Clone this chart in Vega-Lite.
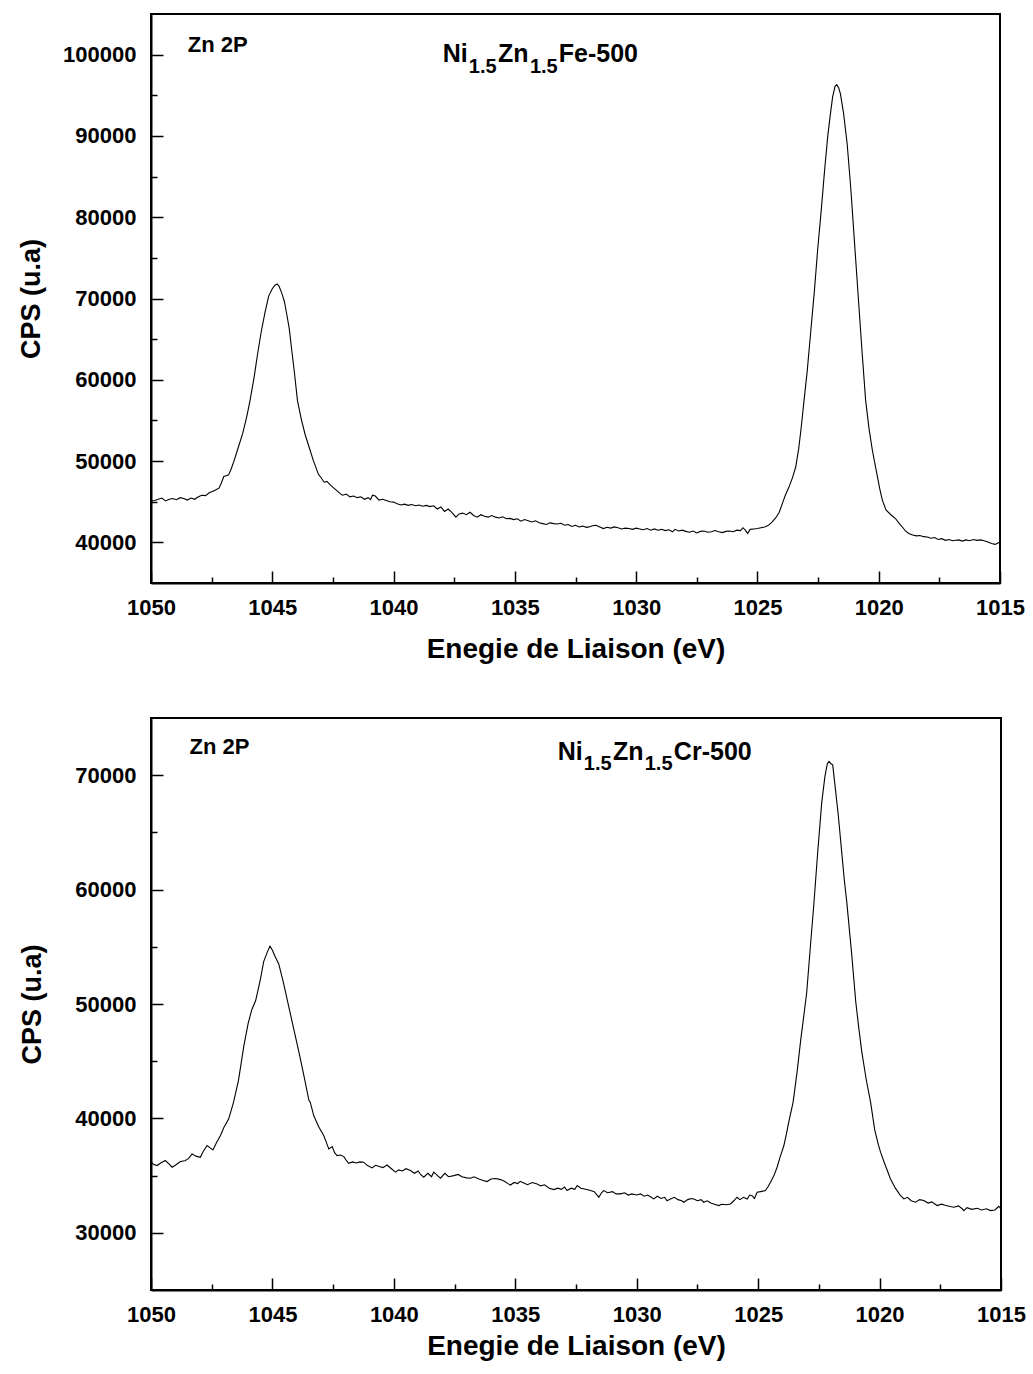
{
  "$schema": "https://vega.github.io/schema/vega-lite/v6.json",
  "padding": {"left": 16, "top": 13, "right": 5, "bottom": 5},
  "background": "white",
  "spacing": 53,
  "config": {
    "view": {"stroke": "black", "strokeWidth": 2},
    "axis": {
      "domainColor": "black", "domainWidth": 2, "tickColor": "black", "tickWidth": 1.5,
      "labelFont": "Liberation Sans", "labelFontWeight": "bold", "labelFontSize": 22, "labelColor": "black",
      "titleFont": "Liberation Sans", "titleFontWeight": "bold", "titleFontSize": 27, "titleColor": "black",
      "grid": false, "labelOverlap": false, "labelFlush": false
    },
    "text": {"font": "Liberation Sans", "fontWeight": "bold", "color": "black", "align": "left", "baseline": "alphabetic"}
  },
  "datasets": {
    "fe": [
      {"eV":1050.0,"cps":45100},{"eV":1049.85,"cps":45150},{"eV":1049.7,"cps":45300},{"eV":1049.55,"cps":45450},{"eV":1049.4,"cps":45100},{"eV":1049.25,"cps":45300},{"eV":1049.1,"cps":45400},{"eV":1048.95,"cps":45250},{"eV":1048.8,"cps":45500},{"eV":1048.65,"cps":45400},{"eV":1048.5,"cps":45200},{"eV":1048.35,"cps":45450},{"eV":1048.2,"cps":45300},{"eV":1048.05,"cps":45600},{"eV":1047.9,"cps":45800},{"eV":1047.75,"cps":45750},{"eV":1047.6,"cps":46100},{"eV":1047.45,"cps":46300},{"eV":1047.3,"cps":46500},{"eV":1047.19,"cps":46700},{"eV":1047.1,"cps":47300},{"eV":1047.0,"cps":48100},{"eV":1046.9,"cps":48200},{"eV":1046.8,"cps":48300},{"eV":1046.7,"cps":49000},{"eV":1046.58,"cps":50000},{"eV":1046.4,"cps":51700},{"eV":1046.22,"cps":53400},{"eV":1046.05,"cps":55500},{"eV":1045.92,"cps":57400},{"eV":1045.75,"cps":60300},{"eV":1045.6,"cps":63300},{"eV":1045.45,"cps":66000},{"eV":1045.3,"cps":68300},{"eV":1045.15,"cps":70300},{"eV":1045.0,"cps":71200},{"eV":1044.9,"cps":71600},{"eV":1044.8,"cps":71800},{"eV":1044.72,"cps":71500},{"eV":1044.6,"cps":70600},{"eV":1044.5,"cps":69600},{"eV":1044.4,"cps":68000},{"eV":1044.3,"cps":66300},{"eV":1044.2,"cps":63700},{"eV":1044.1,"cps":61200},{"eV":1043.96,"cps":57400},{"eV":1043.8,"cps":55100},{"eV":1043.65,"cps":53300},{"eV":1043.48,"cps":51700},{"eV":1043.3,"cps":50000},{"eV":1043.1,"cps":48400},{"eV":1042.95,"cps":47800},{"eV":1042.86,"cps":47400},{"eV":1042.75,"cps":47500},{"eV":1042.62,"cps":47100},{"eV":1042.51,"cps":46800},{"eV":1042.35,"cps":46400},{"eV":1042.2,"cps":46000},{"eV":1042.1,"cps":45800},{"eV":1041.95,"cps":45950},{"eV":1041.8,"cps":45600},{"eV":1041.65,"cps":45700},{"eV":1041.5,"cps":45500},{"eV":1041.35,"cps":45600},{"eV":1041.2,"cps":45300},{"eV":1041.05,"cps":45500},{"eV":1040.95,"cps":45250},{"eV":1040.87,"cps":45800},{"eV":1040.75,"cps":45700},{"eV":1040.6,"cps":45200},{"eV":1040.45,"cps":45300},{"eV":1040.3,"cps":45150},{"eV":1040.15,"cps":45000},{"eV":1040.0,"cps":44950},{"eV":1039.85,"cps":44750},{"eV":1039.7,"cps":44600},{"eV":1039.55,"cps":44700},{"eV":1039.4,"cps":44550},{"eV":1039.25,"cps":44650},{"eV":1039.1,"cps":44500},{"eV":1038.95,"cps":44600},{"eV":1038.8,"cps":44450},{"eV":1038.65,"cps":44550},{"eV":1038.5,"cps":44400},{"eV":1038.35,"cps":44500},{"eV":1038.2,"cps":44100},{"eV":1038.05,"cps":44350},{"eV":1037.9,"cps":43800},{"eV":1037.75,"cps":44100},{"eV":1037.6,"cps":43700},{"eV":1037.43,"cps":43100},{"eV":1037.3,"cps":43500},{"eV":1037.15,"cps":43600},{"eV":1037.0,"cps":43400},{"eV":1036.85,"cps":43700},{"eV":1036.7,"cps":43300},{"eV":1036.55,"cps":43100},{"eV":1036.4,"cps":43400},{"eV":1036.25,"cps":43200},{"eV":1036.1,"cps":43100},{"eV":1035.95,"cps":43300},{"eV":1035.8,"cps":43100},{"eV":1035.65,"cps":43000},{"eV":1035.5,"cps":43150},{"eV":1035.35,"cps":42900},{"eV":1035.2,"cps":42950},{"eV":1035.05,"cps":42800},{"eV":1034.9,"cps":42900},{"eV":1034.75,"cps":42600},{"eV":1034.6,"cps":42800},{"eV":1034.45,"cps":42650},{"eV":1034.3,"cps":42500},{"eV":1034.15,"cps":42650},{"eV":1034.0,"cps":42400},{"eV":1033.85,"cps":42300},{"eV":1033.7,"cps":42200},{"eV":1033.55,"cps":42400},{"eV":1033.4,"cps":42300},{"eV":1033.25,"cps":42250},{"eV":1033.1,"cps":42350},{"eV":1032.95,"cps":42100},{"eV":1032.8,"cps":42200},{"eV":1032.65,"cps":41950},{"eV":1032.5,"cps":42100},{"eV":1032.35,"cps":41900},{"eV":1032.2,"cps":42000},{"eV":1032.05,"cps":41850},{"eV":1031.95,"cps":41900},{"eV":1031.8,"cps":42050},{"eV":1031.66,"cps":42100},{"eV":1031.5,"cps":41900},{"eV":1031.35,"cps":41700},{"eV":1031.2,"cps":41850},{"eV":1031.05,"cps":41750},{"eV":1030.9,"cps":41900},{"eV":1030.75,"cps":41800},{"eV":1030.6,"cps":41650},{"eV":1030.45,"cps":41750},{"eV":1030.3,"cps":41700},{"eV":1030.15,"cps":41600},{"eV":1030.0,"cps":41750},{"eV":1029.85,"cps":41650},{"eV":1029.7,"cps":41550},{"eV":1029.55,"cps":41700},{"eV":1029.4,"cps":41500},{"eV":1029.25,"cps":41650},{"eV":1029.1,"cps":41500},{"eV":1028.95,"cps":41600},{"eV":1028.8,"cps":41450},{"eV":1028.65,"cps":41550},{"eV":1028.5,"cps":41300},{"eV":1028.4,"cps":41600},{"eV":1028.25,"cps":41400},{"eV":1028.1,"cps":41500},{"eV":1027.95,"cps":41350},{"eV":1027.8,"cps":41250},{"eV":1027.65,"cps":41400},{"eV":1027.5,"cps":41150},{"eV":1027.35,"cps":41350},{"eV":1027.2,"cps":41400},{"eV":1027.05,"cps":41250},{"eV":1026.9,"cps":41300},{"eV":1026.75,"cps":41450},{"eV":1026.6,"cps":41300},{"eV":1026.45,"cps":41200},{"eV":1026.3,"cps":41350},{"eV":1026.15,"cps":41400},{"eV":1026.0,"cps":41300},{"eV":1025.85,"cps":41500},{"eV":1025.7,"cps":41450},{"eV":1025.6,"cps":41800},{"eV":1025.5,"cps":41500},{"eV":1025.4,"cps":41100},{"eV":1025.3,"cps":41600},{"eV":1025.15,"cps":41650},{"eV":1025.0,"cps":41700},{"eV":1024.85,"cps":41800},{"eV":1024.7,"cps":41900},{"eV":1024.55,"cps":42100},{"eV":1024.4,"cps":42500},{"eV":1024.25,"cps":43000},{"eV":1024.1,"cps":43700},{"eV":1023.97,"cps":44800},{"eV":1023.85,"cps":45800},{"eV":1023.7,"cps":46800},{"eV":1023.55,"cps":48000},{"eV":1023.42,"cps":49300},{"eV":1023.3,"cps":51500},{"eV":1023.2,"cps":54000},{"eV":1023.08,"cps":57400},{"eV":1022.95,"cps":61000},{"eV":1022.8,"cps":66000},{"eV":1022.65,"cps":71000},{"eV":1022.52,"cps":75900},{"eV":1022.38,"cps":80500},{"eV":1022.23,"cps":85800},{"eV":1022.1,"cps":90000},{"eV":1022.0,"cps":92500},{"eV":1021.9,"cps":94800},{"eV":1021.8,"cps":96100},{"eV":1021.73,"cps":96300},{"eV":1021.65,"cps":95900},{"eV":1021.58,"cps":95200},{"eV":1021.45,"cps":92800},{"eV":1021.3,"cps":89000},{"eV":1021.15,"cps":83500},{"eV":1021.0,"cps":77000},{"eV":1020.85,"cps":70500},{"eV":1020.7,"cps":64000},{"eV":1020.54,"cps":57500},{"eV":1020.4,"cps":54000},{"eV":1020.26,"cps":51300},{"eV":1020.1,"cps":48800},{"eV":1019.95,"cps":46500},{"eV":1019.85,"cps":45200},{"eV":1019.7,"cps":44000},{"eV":1019.5,"cps":43400},{"eV":1019.3,"cps":42900},{"eV":1019.15,"cps":42300},{"eV":1019.0,"cps":41800},{"eV":1018.9,"cps":41400},{"eV":1018.76,"cps":41100},{"eV":1018.6,"cps":40900},{"eV":1018.45,"cps":40800},{"eV":1018.3,"cps":40850},{"eV":1018.15,"cps":40700},{"eV":1018.0,"cps":40650},{"eV":1017.85,"cps":40500},{"eV":1017.7,"cps":40600},{"eV":1017.55,"cps":40350},{"eV":1017.4,"cps":40450},{"eV":1017.25,"cps":40250},{"eV":1017.1,"cps":40350},{"eV":1016.95,"cps":40200},{"eV":1016.83,"cps":40250},{"eV":1016.7,"cps":40300},{"eV":1016.55,"cps":40150},{"eV":1016.4,"cps":40300},{"eV":1016.25,"cps":40200},{"eV":1016.1,"cps":40350},{"eV":1015.95,"cps":40250},{"eV":1015.8,"cps":40300},{"eV":1015.65,"cps":40200},{"eV":1015.5,"cps":40050},{"eV":1015.35,"cps":39850},{"eV":1015.2,"cps":39750},{"eV":1015.1,"cps":39900},{"eV":1015.0,"cps":40050}
    ],
    "cr": [
      {"eV":1050.0,"cps":36200},{"eV":1049.9,"cps":36000},{"eV":1049.75,"cps":35880},{"eV":1049.6,"cps":36100},{"eV":1049.41,"cps":36320},{"eV":1049.25,"cps":36000},{"eV":1049.13,"cps":35730},{"eV":1049.0,"cps":35900},{"eV":1048.79,"cps":36230},{"eV":1048.6,"cps":36300},{"eV":1048.45,"cps":36500},{"eV":1048.31,"cps":36900},{"eV":1048.15,"cps":36700},{"eV":1047.97,"cps":36600},{"eV":1047.85,"cps":37100},{"eV":1047.69,"cps":37630},{"eV":1047.55,"cps":37400},{"eV":1047.45,"cps":37240},{"eV":1047.3,"cps":37900},{"eV":1047.14,"cps":38500},{"eV":1047.0,"cps":39200},{"eV":1046.8,"cps":39960},{"eV":1046.6,"cps":41420},{"eV":1046.4,"cps":43300},{"eV":1046.18,"cps":46300},{"eV":1046.0,"cps":48300},{"eV":1045.85,"cps":49500},{"eV":1045.69,"cps":50300},{"eV":1045.5,"cps":52100},{"eV":1045.36,"cps":53700},{"eV":1045.2,"cps":54600},{"eV":1045.1,"cps":55050},{"eV":1045.0,"cps":54700},{"eV":1044.9,"cps":54200},{"eV":1044.74,"cps":53500},{"eV":1044.55,"cps":51900},{"eV":1044.33,"cps":49800},{"eV":1044.1,"cps":47600},{"eV":1043.88,"cps":45500},{"eV":1043.7,"cps":43700},{"eV":1043.5,"cps":41600},{"eV":1043.44,"cps":41400},{"eV":1043.3,"cps":40250},{"eV":1043.1,"cps":39300},{"eV":1042.89,"cps":38500},{"eV":1042.78,"cps":37900},{"eV":1042.68,"cps":37330},{"eV":1042.54,"cps":37540},{"eV":1042.44,"cps":37000},{"eV":1042.34,"cps":36750},{"eV":1042.2,"cps":36800},{"eV":1042.06,"cps":36660},{"eV":1041.95,"cps":36300},{"eV":1041.86,"cps":36080},{"eV":1041.7,"cps":36200},{"eV":1041.55,"cps":36100},{"eV":1041.4,"cps":36200},{"eV":1041.24,"cps":36170},{"eV":1041.1,"cps":35900},{"eV":1040.9,"cps":35670},{"eV":1040.75,"cps":35900},{"eV":1040.6,"cps":35800},{"eV":1040.45,"cps":35700},{"eV":1040.28,"cps":35930},{"eV":1040.1,"cps":35600},{"eV":1039.93,"cps":35300},{"eV":1039.8,"cps":35500},{"eV":1039.65,"cps":35400},{"eV":1039.5,"cps":35600},{"eV":1039.32,"cps":35440},{"eV":1039.15,"cps":35200},{"eV":1039.0,"cps":35400},{"eV":1038.9,"cps":35100},{"eV":1038.77,"cps":34860},{"eV":1038.6,"cps":35200},{"eV":1038.45,"cps":34900},{"eV":1038.36,"cps":35300},{"eV":1038.2,"cps":35000},{"eV":1038.08,"cps":34770},{"eV":1037.9,"cps":35200},{"eV":1037.75,"cps":34900},{"eV":1037.53,"cps":35000},{"eV":1037.35,"cps":35100},{"eV":1037.2,"cps":34900},{"eV":1037.0,"cps":34800},{"eV":1036.84,"cps":34770},{"eV":1036.7,"cps":34900},{"eV":1036.5,"cps":34700},{"eV":1036.35,"cps":34600},{"eV":1036.16,"cps":34480},{"eV":1036.0,"cps":34700},{"eV":1035.8,"cps":34750},{"eV":1035.61,"cps":34650},{"eV":1035.45,"cps":34500},{"eV":1035.3,"cps":34300},{"eV":1035.2,"cps":34180},{"eV":1035.05,"cps":34400},{"eV":1034.9,"cps":34300},{"eV":1034.8,"cps":34500},{"eV":1034.65,"cps":34360},{"eV":1034.5,"cps":34200},{"eV":1034.3,"cps":34400},{"eV":1034.1,"cps":34270},{"eV":1033.95,"cps":34100},{"eV":1033.8,"cps":34200},{"eV":1033.6,"cps":33900},{"eV":1033.41,"cps":33780},{"eV":1033.25,"cps":33900},{"eV":1033.1,"cps":33800},{"eV":1032.97,"cps":34000},{"eV":1032.87,"cps":33690},{"eV":1032.7,"cps":33900},{"eV":1032.55,"cps":33800},{"eV":1032.45,"cps":34130},{"eV":1032.3,"cps":33900},{"eV":1032.1,"cps":33800},{"eV":1031.9,"cps":33690},{"eV":1031.75,"cps":33600},{"eV":1031.56,"cps":33110},{"eV":1031.45,"cps":33500},{"eV":1031.36,"cps":33690},{"eV":1031.2,"cps":33500},{"eV":1031.0,"cps":33600},{"eV":1030.85,"cps":33400},{"eV":1030.67,"cps":33400},{"eV":1030.5,"cps":33500},{"eV":1030.35,"cps":33300},{"eV":1030.2,"cps":33400},{"eV":1030.0,"cps":33300},{"eV":1029.84,"cps":33400},{"eV":1029.7,"cps":33200},{"eV":1029.55,"cps":33300},{"eV":1029.4,"cps":33100},{"eV":1029.3,"cps":32960},{"eV":1029.15,"cps":33200},{"eV":1029.0,"cps":33000},{"eV":1028.85,"cps":33100},{"eV":1028.75,"cps":32800},{"eV":1028.61,"cps":32960},{"eV":1028.45,"cps":33100},{"eV":1028.3,"cps":32900},{"eV":1028.15,"cps":32800},{"eV":1028.06,"cps":32670},{"eV":1027.9,"cps":32900},{"eV":1027.75,"cps":33000},{"eV":1027.65,"cps":32960},{"eV":1027.5,"cps":32800},{"eV":1027.35,"cps":32900},{"eV":1027.24,"cps":32670},{"eV":1027.1,"cps":32800},{"eV":1026.95,"cps":32600},{"eV":1026.8,"cps":32500},{"eV":1026.62,"cps":32380},{"eV":1026.5,"cps":32500},{"eV":1026.3,"cps":32450},{"eV":1026.14,"cps":32520},{"eV":1026.0,"cps":32800},{"eV":1025.87,"cps":33110},{"eV":1025.75,"cps":32900},{"eV":1025.6,"cps":33100},{"eV":1025.45,"cps":32960},{"eV":1025.35,"cps":33300},{"eV":1025.25,"cps":33250},{"eV":1025.15,"cps":33000},{"eV":1025.04,"cps":33540},{"eV":1024.9,"cps":33600},{"eV":1024.7,"cps":33690},{"eV":1024.6,"cps":34000},{"eV":1024.49,"cps":34420},{"eV":1024.35,"cps":35000},{"eV":1024.22,"cps":35730},{"eV":1024.1,"cps":36600},{"eV":1023.94,"cps":37630},{"eV":1023.84,"cps":38600},{"eV":1023.74,"cps":39670},{"eV":1023.56,"cps":41420},{"eV":1023.4,"cps":44000},{"eV":1023.25,"cps":46800},{"eV":1023.1,"cps":49300},{"eV":1023.0,"cps":51000},{"eV":1022.85,"cps":55000},{"eV":1022.7,"cps":58900},{"eV":1022.55,"cps":63200},{"eV":1022.38,"cps":67650},{"eV":1022.25,"cps":69900},{"eV":1022.15,"cps":71000},{"eV":1022.08,"cps":71200},{"eV":1022.0,"cps":71000},{"eV":1021.93,"cps":70900},{"eV":1021.85,"cps":69400},{"eV":1021.7,"cps":66500},{"eV":1021.56,"cps":63300},{"eV":1021.45,"cps":60800},{"eV":1021.35,"cps":58900},{"eV":1021.15,"cps":54400},{"eV":1020.98,"cps":50170},{"eV":1020.85,"cps":47800},{"eV":1020.73,"cps":45800},{"eV":1020.55,"cps":43400},{"eV":1020.37,"cps":41420},{"eV":1020.2,"cps":39000},{"eV":1020.05,"cps":37700},{"eV":1019.96,"cps":37050},{"eV":1019.8,"cps":36100},{"eV":1019.55,"cps":34710},{"eV":1019.35,"cps":33900},{"eV":1019.15,"cps":33300},{"eV":1019.0,"cps":32960},{"eV":1018.85,"cps":33100},{"eV":1018.7,"cps":32800},{"eV":1018.52,"cps":32670},{"eV":1018.35,"cps":32900},{"eV":1018.18,"cps":32820},{"eV":1018.0,"cps":32600},{"eV":1017.85,"cps":32700},{"eV":1017.63,"cps":32380},{"eV":1017.45,"cps":32500},{"eV":1017.3,"cps":32400},{"eV":1017.1,"cps":32300},{"eV":1016.94,"cps":32230},{"eV":1016.75,"cps":32350},{"eV":1016.6,"cps":32100},{"eV":1016.53,"cps":31940},{"eV":1016.4,"cps":32200},{"eV":1016.2,"cps":32050},{"eV":1015.98,"cps":32150},{"eV":1015.8,"cps":32000},{"eV":1015.6,"cps":32100},{"eV":1015.43,"cps":31940},{"eV":1015.25,"cps":32000},{"eV":1015.09,"cps":32320},{"eV":1015.0,"cps":32100}
    ],
    "one": [{}]
  },
  "vconcat": [
    {
      "width": 849, "height": 569,
      "layer": [
        {
          "data": {"name": "fe"},
          "mark": {"type": "line", "color": "black", "strokeWidth": 1.1, "clip": true},
          "encoding": {
            "x": {"field": "eV", "type": "quantitative",
              "scale": {"domain": [1015, 1050], "reverse": true, "nice": false, "zero": false},
              "axis": {"title": "Enegie de Liaison (eV)", "format": "d", "titleFontSize": 28,
                "values": [1050,1047.5,1045,1042.5,1040,1037.5,1035,1032.5,1030,1027.5,1025,1022.5,1020,1017.5,1015],
                "labelExpr": "datum.value % 5 === 0 ? datum.label : ''",
                "tickSize": {"condition": {"test": "datum.value % 5 === 0", "value": -12}, "value": -6},
                "labelPadding": 26, "titlePadding": 11}},
            "y": {"field": "cps", "type": "quantitative",
              "scale": {"domain": [35000, 105000], "nice": false, "zero": false},
              "axis": {"title": "CPS (u.a)", "format": "d",
                "values": [40000,45000,50000,55000,60000,65000,70000,75000,80000,85000,90000,95000,100000],
                "labelExpr": "datum.value % 10000 === 0 ? datum.label : ''",
                "tickSize": {"condition": {"test": "datum.value % 10000 === 0", "value": -12}, "value": -6},
                "labelPadding": 27, "titlePadding": 17}}
          }
        },
        {"data": {"name": "one"}, "mark": {"type": "text", "fontSize": 22},
         "encoding": {"x": {"datum": 1048.48, "type": "quantitative"}, "y": {"datum": 100320, "type": "quantitative"}, "text": {"value": "Zn 2P"}}},
        {"data": {"name": "one"}, "mark": {"type": "text", "fontSize": 25},
         "encoding": {"x": {"datum": 1037.97, "type": "quantitative"}, "y": {"datum": 99055, "type": "quantitative"}, "text": {"value": "Ni"}}},
        {"data": {"name": "one"}, "mark": {"type": "text", "fontSize": 20},
         "encoding": {"x": {"datum": 1036.90, "type": "quantitative"}, "y": {"datum": 97700, "type": "quantitative"}, "text": {"value": "1.5"}}},
        {"data": {"name": "one"}, "mark": {"type": "text", "fontSize": 25},
         "encoding": {"x": {"datum": 1035.70, "type": "quantitative"}, "y": {"datum": 99055, "type": "quantitative"}, "text": {"value": "Zn"}}},
        {"data": {"name": "one"}, "mark": {"type": "text", "fontSize": 20},
         "encoding": {"x": {"datum": 1034.38, "type": "quantitative"}, "y": {"datum": 97700, "type": "quantitative"}, "text": {"value": "1.5"}}},
        {"data": {"name": "one"}, "mark": {"type": "text", "fontSize": 25},
         "encoding": {"x": {"datum": 1033.19, "type": "quantitative"}, "y": {"datum": 99055, "type": "quantitative"}, "text": {"value": "Fe-500"}}}
      ]
    },
    {
      "width": 850, "height": 572,
      "layer": [
        {
          "data": {"name": "cr"},
          "mark": {"type": "line", "color": "black", "strokeWidth": 1.1, "clip": true},
          "encoding": {
            "x": {"field": "eV", "type": "quantitative",
              "scale": {"domain": [1015, 1050], "reverse": true, "nice": false, "zero": false},
              "axis": {"title": "Enegie de Liaison (eV)", "format": "d", "titleFontSize": 28,
                "values": [1050,1047.5,1045,1042.5,1040,1037.5,1035,1032.5,1030,1027.5,1025,1022.5,1020,1017.5,1015],
                "labelExpr": "datum.value % 5 === 0 ? datum.label : ''",
                "tickSize": {"condition": {"test": "datum.value % 5 === 0", "value": -12}, "value": -6},
                "labelPadding": 26, "titlePadding": 1}},
            "y": {"field": "cps", "type": "quantitative",
              "scale": {"domain": [25000, 75000], "nice": false, "zero": false},
              "axis": {"title": "CPS (u.a)", "format": "d",
                "values": [30000,35000,40000,45000,50000,55000,60000,65000,70000],
                "labelExpr": "datum.value % 10000 === 0 ? datum.label : ''",
                "tickSize": {"condition": {"test": "datum.value % 10000 === 0", "value": -12}, "value": -6},
                "labelPadding": 27, "titlePadding": 28}}
          }
        },
        {"data": {"name": "one"}, "mark": {"type": "text", "fontSize": 22},
         "encoding": {"x": {"datum": 1048.41, "type": "quantitative"}, "y": {"datum": 71878, "type": "quantitative"}, "text": {"value": "Zn 2P"}}},
        {"data": {"name": "one"}, "mark": {"type": "text", "fontSize": 25},
         "encoding": {"x": {"datum": 1033.25, "type": "quantitative"}, "y": {"datum": 71300, "type": "quantitative"}, "text": {"value": "Ni"}}},
        {"data": {"name": "one"}, "mark": {"type": "text", "fontSize": 20},
         "encoding": {"x": {"datum": 1032.18, "type": "quantitative"}, "y": {"datum": 70478, "type": "quantitative"}, "text": {"value": "1.5"}}},
        {"data": {"name": "one"}, "mark": {"type": "text", "fontSize": 25},
         "encoding": {"x": {"datum": 1030.98, "type": "quantitative"}, "y": {"datum": 71300, "type": "quantitative"}, "text": {"value": "Zn"}}},
        {"data": {"name": "one"}, "mark": {"type": "text", "fontSize": 20},
         "encoding": {"x": {"datum": 1029.67, "type": "quantitative"}, "y": {"datum": 70478, "type": "quantitative"}, "text": {"value": "1.5"}}},
        {"data": {"name": "one"}, "mark": {"type": "text", "fontSize": 25},
         "encoding": {"x": {"datum": 1028.47, "type": "quantitative"}, "y": {"datum": 71300, "type": "quantitative"}, "text": {"value": "Cr-500"}}}
      ]
    }
  ]
}
